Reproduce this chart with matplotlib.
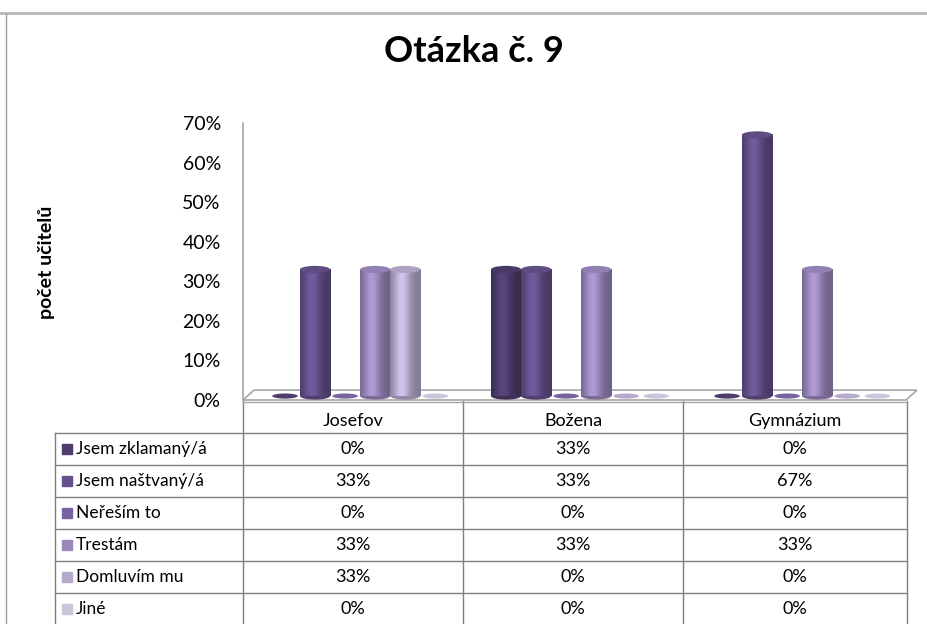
import numpy as np
import matplotlib
matplotlib.use('Agg')
import matplotlib.pyplot as plt
from matplotlib.patches import Ellipse, Polygon, Rectangle
from matplotlib.colors import to_rgb

plt.rcParams['font.family'] = ['Lato', 'DejaVu Sans']

categories = ["Josefov", "Božena", "Gymnázium"]
series_names = ["Jsem zklamaný/á", "Jsem naštvaný/á", "Neřeším to",
                "Trestám", "Domluvím mu", "Jiné"]
zklamany = [0, 33, 0]
nastvany = [33, 33, 67]
neresim = [0, 0, 0]
trestam = [33, 33, 33]
domluvim = [33, 0, 0]
jine = [0, 0, 0]
series_values = [zklamany, nastvany, neresim, trestam, domluvim, jine]
colors = ["#4d3c6c", "#64508a", "#7862a0", "#9a87bc", "#b7abcd", "#cdc5dc"]

W, H = 927, 624
fig = plt.figure(figsize=(W / 100, H / 100), dpi=100)

# chart axes (pixel box: x 243..906, y 123..400)
ax = fig.add_axes([243 / W, (H - 400) / H, 663 / W, 277 / H])
ax.set_xlim(0, 3)
ax.set_ylim(0, 70)

bw = 0.136
profile = np.linspace(0, 1, 60)
shade = 0.72 + 0.42 * np.exp(-((profile - 0.38) / 0.28) ** 2)

for s, (vals, col) in enumerate(zip(series_values, colors)):
    rgb = np.array(to_rgb(col))
    for c, v in enumerate(vals):
        xc = c + 0.5 + (s - 2.5) * bw + 0.03
        x0 = xc - bw / 2
        base = 1.0
        if v > 0:
            img = np.clip(rgb[None, None, :] * shade[None, :, None], 0, 1)
            ax.imshow(img, extent=[x0, x0 + bw, base, v], aspect='auto',
                      zorder=3, interpolation='bilinear')
            ax.add_patch(Ellipse((xc, base), bw, 1.8, color=rgb * 0.8, zorder=2.9, lw=0))
            ax.add_patch(Ellipse((xc, v), bw, 1.8,
                                 color=np.clip(rgb * 0.95, 0, 1), zorder=3.1, lw=0))
        else:
            ax.add_patch(Ellipse((xc, base), bw * 0.85, 1.3, color=rgb, zorder=3, lw=0))

# floor
ax.add_patch(Polygon([(0, 0), (3, 0), (3.05, 2.5), (0.05, 2.5)], closed=True,
                     facecolor='white', edgecolor='#a6a6a6', lw=1.2, zorder=1, clip_on=False))
ax.plot([0, 3], [-0.5, -0.5], color='#a6a6a6', lw=1, clip_on=False, zorder=1)

ax.set_xlim(0, 3)
ax.set_ylim(0, 70)
for sp in ['top', 'right', 'bottom']:
    ax.spines[sp].set_visible(False)
ax.spines['left'].set_color('#a6a6a6')
ax.spines['left'].set_linewidth(1.2)
ax.set_xticks([])
ax.set_yticks(range(0, 71, 10))
ax.set_yticklabels([f"{t}%" for t in range(0, 71, 10)], fontsize=14)
ax.tick_params(axis='y', length=0, pad=16)

# overlay in pixel coords for table and frame
ov = fig.add_axes([0, 0, 1, 1], zorder=-1)
ov.set_xlim(0, W)
ov.set_ylim(H, 0)
ov.axis('off')

ov.plot([0, W], [13, 13], color='#b8b8b8', lw=2)
ov.plot([6, 6], [14, H], color='#9a9a9a', lw=1)

ov.text(474, 52, "Otázka č. 9", fontsize=26, fontweight='bold', ha='center', va='center')
ov.text(47, 262, "počet učitelů", fontsize=14, fontweight='bold', rotation=90,
        ha='center', va='center')

lc = '#7f7f7f'
col_x = [243, 463, 683, 907]
for x in col_x:
    ov.plot([x, x], [401, H], color=lc, lw=1)
ov.plot([55, 55], [433, H], color=lc, lw=1)
row_y = [433, 465, 497, 529, 561, 593]
for y in row_y:
    ov.plot([55, 907], [y, y], color=lc, lw=1)

for c, name in enumerate(categories):
    ov.text((col_x[c] + col_x[c + 1]) / 2, 421, name, fontsize=13, ha='center', va='center')

for s, (name, vals, col) in enumerate(zip(series_names, series_values, colors)):
    yc = 449 + 32 * s
    ov.add_patch(Rectangle((62, yc - 5), 10, 10, color=col))
    ov.text(76, yc, name, fontsize=12.5, ha='left', va='center')
    for c, v in enumerate(vals):
        ov.text((col_x[c] + col_x[c + 1]) / 2, yc, f"{v}%", fontsize=13,
                ha='center', va='center')

fig.savefig("out.png", dpi=100)
